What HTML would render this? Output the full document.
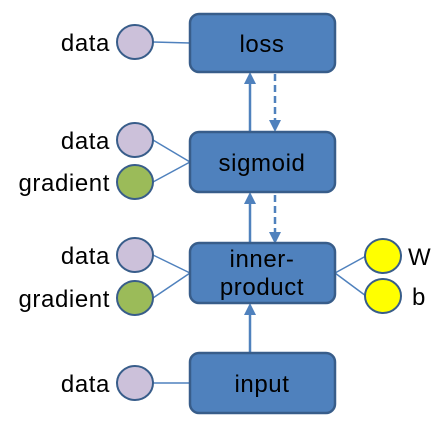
<!DOCTYPE html>
<html><head><meta charset="utf-8"><style>
html,body{margin:0;padding:0;background:#fff;width:443px;height:427px;overflow:hidden}
text{font-family:"Liberation Sans",sans-serif;font-size:24px;fill:#000;letter-spacing:0.6px}
</style></head><body>
<svg width="443" height="427" viewBox="0 0 443 427">
<defs>
<marker id="ah" markerWidth="12" markerHeight="12" refX="6" refY="6" orient="auto" markerUnits="userSpaceOnUse">
<path d="M0,0 L12,6 L0,12 z" fill="#4f81bd"/></marker>
</defs>
<g stroke="#4f81bd" stroke-width="1.5" fill="none">
<line x1="153" y1="42" x2="190" y2="43"/>
<line x1="153" y1="140" x2="190" y2="162"/>
<line x1="153" y1="182" x2="190" y2="162"/>
<line x1="153" y1="255" x2="190" y2="273"/>
<line x1="153" y1="298" x2="190" y2="273"/>
<line x1="153" y1="383" x2="190" y2="383"/>
<line x1="335" y1="273" x2="366" y2="256"/>
<line x1="335" y1="273" x2="366" y2="296"/>
</g>
<g stroke="#4f81bd" stroke-width="2.5">
<line x1="250" y1="131" x2="250" y2="78" marker-end="url(#ah)"/>
<line x1="275" y1="74" x2="275" y2="126" stroke-dasharray="7,4" marker-end="url(#ah)"/>
<line x1="250" y1="243" x2="250" y2="198" marker-end="url(#ah)"/>
<line x1="275" y1="195" x2="275" y2="238" stroke-dasharray="7,4" marker-end="url(#ah)"/>
<line x1="250" y1="353" x2="250" y2="309" marker-end="url(#ah)"/>
</g>
<g fill="#4f81bd" stroke="#385d8a" stroke-width="2.5">
<rect x="190" y="14" width="145" height="58" rx="9"/>
<rect x="190" y="132" width="145" height="60" rx="9"/>
<rect x="190" y="243" width="145" height="60" rx="9"/>
<rect x="190" y="353" width="145" height="60" rx="9"/>
</g>
<text x="262" y="52" text-anchor="middle">loss</text>
<text x="262" y="171" text-anchor="middle">sigmoid</text>
<text x="262" y="267" text-anchor="middle">inner-</text>
<text x="262" y="295" text-anchor="middle">product</text>
<text x="262" y="392" text-anchor="middle">input</text>
<g stroke="#385d8a" stroke-width="2">
<ellipse cx="135" cy="42" rx="18" ry="17" fill="#ccc1da"/>
<ellipse cx="135" cy="140" rx="18" ry="17" fill="#ccc1da"/>
<ellipse cx="135" cy="182" rx="18" ry="17" fill="#9bbb59"/>
<ellipse cx="135" cy="255" rx="18" ry="17" fill="#ccc1da"/>
<ellipse cx="135" cy="298" rx="18" ry="17" fill="#9bbb59"/>
<ellipse cx="135" cy="383" rx="18" ry="17" fill="#ccc1da"/>
<ellipse cx="383" cy="256" rx="18" ry="17" fill="#ffff00"/>
<ellipse cx="383" cy="296" rx="18" ry="17" fill="#ffff00"/>
</g>
<g text-anchor="end">
<text x="110" y="51">data</text>
<text x="110" y="149">data</text>
<text x="110" y="191">gradient</text>
<text x="110" y="264">data</text>
<text x="110" y="307">gradient</text>
<text x="110" y="392">data</text>
</g>
<text x="408" y="265">W</text>
<text x="412" y="305">b</text>
</svg>
</body></html>
